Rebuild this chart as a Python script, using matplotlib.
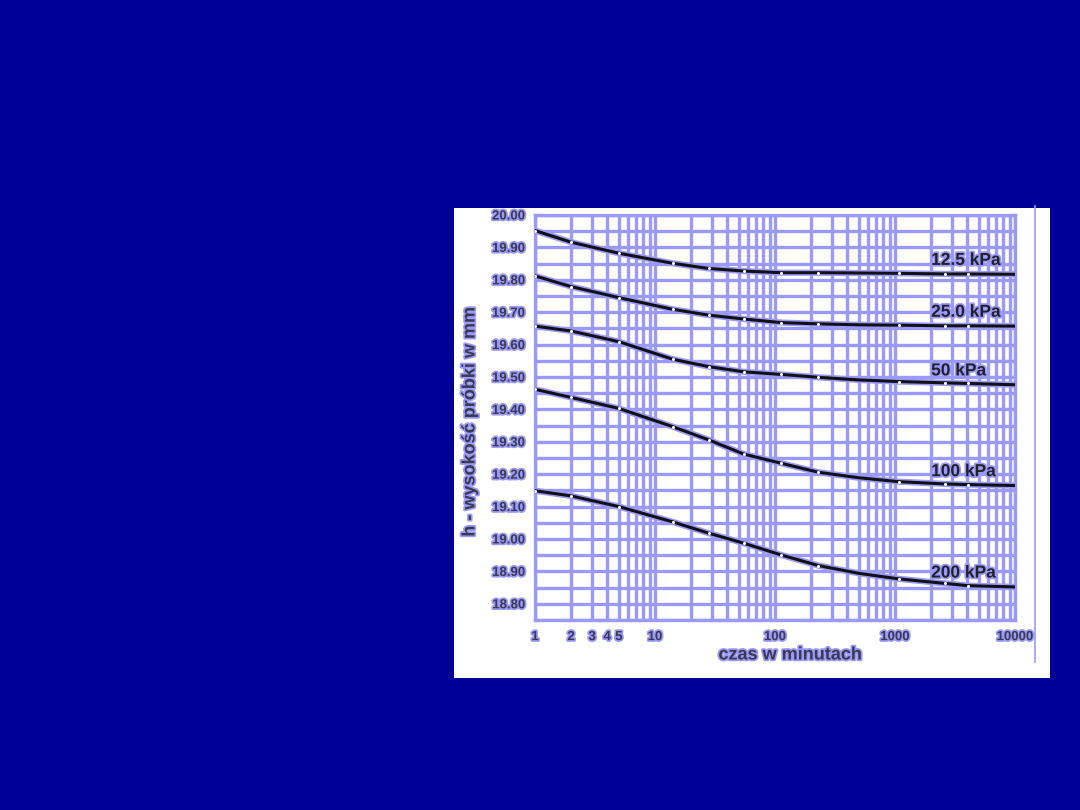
import numpy as np
import matplotlib
matplotlib.use("Agg")
import matplotlib.pyplot as plt
import matplotlib.patheffects as pe
from matplotlib.patches import Rectangle
from matplotlib.lines import Line2D
from matplotlib.ticker import FixedLocator, MultipleLocator, NullFormatter

plt.rcParams["font.family"] = ["Liberation Sans", "DejaVu Sans"]
plt.rcParams["font.weight"] = "bold"

# czas [min] and sample height [mm]
czas = [1, 2, 5, 14, 28, 55, 112, 230, 500, 1070, 2600, 4040, 10000]
h_12_5 = [19.952, 19.916, 19.882, 19.851, 19.835, 19.827, 19.822, 19.822, 19.821, 19.820, 19.818, 19.818, 19.817]
h_25 = [19.812, 19.779, 19.745, 19.709, 19.691, 19.679, 19.668, 19.664, 19.661, 19.660, 19.658, 19.658, 19.657]
h_50 = [19.657, 19.642, 19.609, 19.555, 19.532, 19.516, 19.508, 19.499, 19.491, 19.486, 19.482, 19.480, 19.476]
h_100 = [19.462, 19.437, 19.403, 19.347, 19.306, 19.262, 19.234, 19.206, 19.189, 19.177, 19.170, 19.168, 19.165]
h_200 = [19.149, 19.133, 19.100, 19.053, 19.018, 18.987, 18.951, 18.918, 18.894, 18.877, 18.863, 18.856, 18.852]
series = [("12.5 kPa", h_12_5), ("25.0 kPa", h_25), ("50 kPa", h_50),
          ("100 kPa", h_100), ("200 kPa", h_200)]
marked = [0, 1, 2, 3, 4, 5, 6, 7, 9, 10, 11]  # points drawn with white dots

x_ticks = [1, 2, 3, 4, 5, 10, 100, 1000, 10000]
y_ticks = [20.00, 19.90, 19.80, 19.70, 19.60, 19.50, 19.40, 19.30, 19.20, 19.10, 19.00, 18.90, 18.80]

BG = "#000099"
GRID = "#9999ff"
TXT = "#3a3a4a"
halo = [pe.withStroke(linewidth=2.5, foreground=GRID)]

fig = plt.figure(figsize=(10.8, 8.1), dpi=100, facecolor=BG)
# white slide panel + thin line on the right
fig.patches.append(Rectangle((454 / 1080, 1 - 678 / 810), 596 / 1080, 470 / 810,
                             transform=fig.transFigure, facecolor="white", edgecolor="none", zorder=-10))
fig.lines.append(Line2D([1035 / 1080] * 2, [1 - 662 / 810, 1 - 206 / 810],
                        transform=fig.transFigure, color=GRID, lw=1.2, zorder=-5))

ax = fig.add_axes([535 / 1080, 1 - 620 / 810, 480 / 1080, 405 / 810], zorder=1)
ax.set_facecolor("white")
ax.set_xscale("log")
ax.set_xlim(1, 10000)
ax.set_ylim(18.75, 20.00)

ax.xaxis.set_major_locator(FixedLocator(x_ticks))
ax.set_xticklabels([str(v) for v in x_ticks])
ax.xaxis.set_minor_locator(matplotlib.ticker.LogLocator(base=10, subs=np.arange(2, 10)))
ax.xaxis.set_minor_formatter(NullFormatter())
ax.yaxis.set_major_locator(FixedLocator(y_ticks))
ax.set_yticklabels([f"{v:.2f}" for v in y_ticks])
ax.yaxis.set_minor_locator(MultipleLocator(0.05))

ax.grid(True, which="both", color=GRID, lw=2.4)
ax.set_axisbelow(True)
for s in ax.spines.values():
    s.set_color(GRID); s.set_linewidth(2.4)
ax.tick_params(which="both", length=0)
ax.tick_params(axis="y", pad=7)
ax.tick_params(axis="x", pad=8)
for lab in ax.get_xticklabels() + ax.get_yticklabels():
    lab.set_fontsize(9.5); lab.set_fontweight("bold"); lab.set_color(TXT)
    lab.set_path_effects(halo)

for name, h in series:
    ax.plot(czas, h, color="#111111", lw=2.2, solid_capstyle="round",
            path_effects=[pe.Stroke(linewidth=4.5, foreground=GRID), pe.Normal()], zorder=3)
    ax.plot([czas[i] for i in marked], [h[i] for i in marked], "o", ms=2.2,
            color="white", mec="none", zorder=4)
    ax.annotate(name, xy=(2000, h[-1]), xytext=(0, 10), textcoords="offset points",
                ha="left", va="center", fontsize=12.5, fontweight="bold", color="#222222",
                path_effects=halo, zorder=5)

fig.text(790 / 1080, 1 - 655 / 810, "czas w minutach", ha="center", va="center",
         fontsize=13, fontweight="bold", color=TXT, path_effects=halo)
fig.text(470 / 1080, 1 - 422 / 810, "h - wysokość próbki w mm", ha="center", va="center",
         rotation=90, fontsize=13, fontweight="bold", color=TXT, path_effects=halo)

fig.savefig("out.png", dpi=100, facecolor=BG)
